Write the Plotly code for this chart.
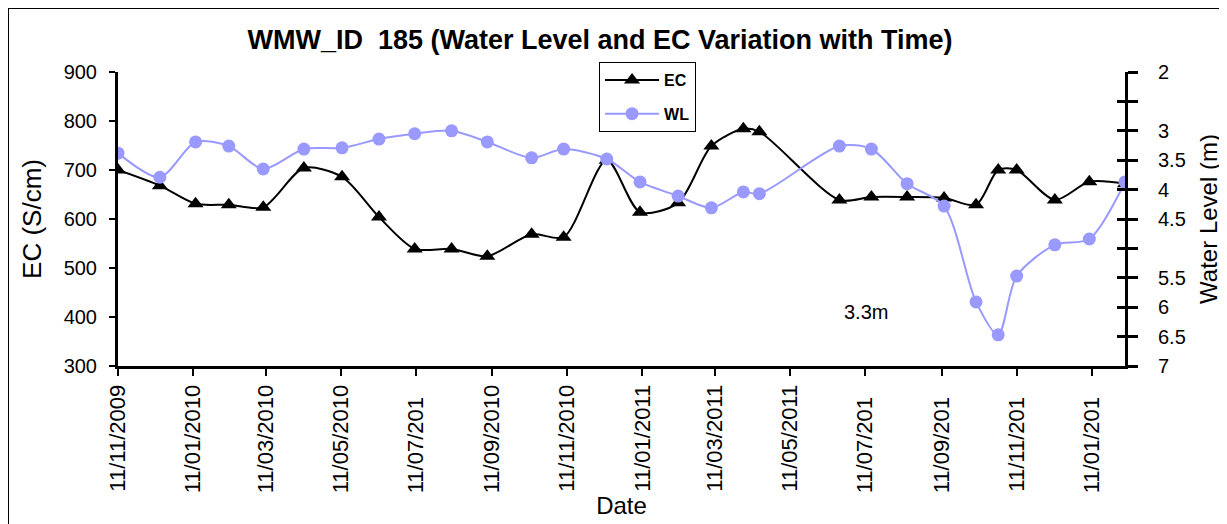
import plotly.graph_objects as go

# ---- data ----
dates = ["2009-11-11", "2009-12-15", "2010-01-13", "2010-02-09", "2010-03-09",
         "2010-04-11", "2010-05-12", "2010-06-11", "2010-07-10", "2010-08-09",
         "2010-09-07", "2010-10-13", "2010-11-08", "2010-12-13", "2011-01-09",
         "2011-02-09", "2011-03-08", "2011-04-03", "2011-04-16", "2011-06-20",
         "2011-07-16", "2011-08-14", "2011-09-13", "2011-10-09", "2011-10-27",
         "2011-11-11", "2011-12-12", "2012-01-09", "2012-02-07"]

ec = [700, 668, 631, 629, 624, 704, 686, 604, 539, 539, 524, 569, 563, 720, 614,
      633, 749, 784, 778, 639, 645, 645, 643, 629, 700, 700, 639, 676, 672]

wl = [3.38, 3.79, 3.19, 3.26, 3.65, 3.31, 3.29, 3.14, 3.05, 3.00, 3.19, 3.46, 3.31,
      3.48, 3.87, 4.11, 4.31, 4.04, 4.07, 3.26, 3.31, 3.90, 4.28, 5.91, 6.47, 5.47,
      4.94, 4.84, 3.87]

x_tick_dates = ["2009-11-11", "2010-01-11", "2010-03-11", "2010-05-11", "2010-07-11",
                "2010-09-11", "2010-11-11", "2011-01-11", "2011-03-11", "2011-05-11",
                "2011-07-11", "2011-09-11", "2011-11-11", "2012-01-11"]
x_tick_text = ["11/11/2009", "11/01/2010", "11/03/2010", "11/05/2010",
               "11/07/201\u00a0\u00a0", "11/09/2010", "11/11/2010", "11/01/2011",
               "11/03/2011", "11/05/2011", "11/07/201\u00a0\u00a0", "11/09/201\u00a0\u00a0",
               "11/11/201\u00a0\u00a0", "11/01/201\u00a0\u00a0"]

ec_ticks = [300, 400, 500, 600, 700, 800, 900]
wl_ticks = [2, 2.5, 3, 3.5, 4, 4.5, 5, 5.5, 6, 6.5, 7]
wl_tick_text = ["2", "", "3", "3.5", "4", "4.5", "", "5.5", "6", "6.5", "7"]

x_range = ["2009-11-11", "2012-02-07"]
ec_range = [300, 900]
wl_range = [7, 2]

FONT = "Liberation Sans, Arial, sans-serif"
WL_COLOR = "#9999FF"

fig = go.Figure()
fig.add_trace(go.Scatter(
    x=dates, y=ec, name="EC", mode="lines+markers", legendgroup="ec",
    line=dict(color="black", width=2, shape="spline", smoothing=0.8),
    marker=dict(symbol="triangle-up", size=14, color="black"),
    yaxis="y"))
fig.add_trace(go.Scatter(
    x=dates, y=wl, name="WL", mode="lines+markers", legendgroup="wl",
    line=dict(color=WL_COLOR, width=2, shape="spline", smoothing=0.8),
    marker=dict(symbol="circle", size=13, color=WL_COLOR),
    yaxis="y2"))
# invisible trace carrying the inner right-hand ticks
fig.add_trace(go.Scatter(x=[dates[0]], y=[wl[0]], yaxis="y3", mode="markers",
                         marker=dict(opacity=0), showlegend=False, hoverinfo="skip"))

fig.update_layout(
    width=1227, height=524,
    margin=dict(l=110, r=110, t=64, b=166, pad=0),
    paper_bgcolor="white", plot_bgcolor="white",
    font=dict(family=FONT, color="black", size=20),
    showlegend=True,
    title=dict(text="<b>WMW_ID\u00a0\u00a0185 (Water Level and EC Variation with Time)</b>",
               font=dict(family=FONT, size=27, color="black"),
               xref="container", x=0.4825, xanchor="center",
               yref="container", y=1 - 32 / 524, yanchor="middle"),
    legend=dict(x=0.4777, y=1.034, xanchor="left", yanchor="top",
                bgcolor="white", bordercolor="black", borderwidth=1,
                font=dict(family=FONT, size=16, color="black", weight="bold"),
                itemwidth=54, tracegroupgap=10),
    xaxis=dict(type="date", range=x_range, tickmode="array",
               tickvals=x_tick_dates, ticktext=x_tick_text, tickangle=-90,
               tickfont=dict(size=22), showgrid=False, zeroline=False,
               showline=True, linecolor="black", linewidth=3,
               ticks="outside", ticklen=7, tickwidth=2, tickcolor="black",
               automargin=False,
               title=dict(text="Date", font=dict(size=24), standoff=2)),
    yaxis=dict(range=ec_range, tickmode="array", tickvals=ec_ticks,
               showgrid=False, zeroline=False, showline=True, linecolor="black",
               linewidth=3, ticks="outside", ticklen=6, tickwidth=2,
               tickcolor="black", ticklabelstandoff=8, automargin=False,
               title=dict(text="EC (S/cm)", font=dict(size=26), standoff=15)),
    yaxis2=dict(range=wl_range, overlaying="y", side="right", tickmode="array",
                tickvals=wl_ticks, ticktext=wl_tick_text, showgrid=False,
                zeroline=False, showline=True, linecolor="black", linewidth=3,
                ticks="outside", ticklen=10, tickwidth=3, tickcolor="black",
                ticklabelstandoff=16, automargin=False,
                title=dict(text="Water Level (m)", font=dict(size=24), standoff=16)),
    yaxis3=dict(range=wl_range, overlaying="y", side="right", tickmode="array",
                tickvals=wl_ticks, showticklabels=False, showgrid=False,
                zeroline=False, showline=False, ticks="inside", ticklen=8,
                tickwidth=3, tickcolor="black", automargin=False),
    annotations=[dict(text="3.3m", xref="paper", yref="paper",
                      x=0.7666, y=0.139, showarrow=False,
                      font=dict(size=20, family=FONT, color="black"))],
    shapes=[
        dict(type="rect", xref="paper", yref="paper",
             x0=-0.10924, x1=1.1142, y0=-0.5918, y1=1.2177,
             line=dict(color="black", width=2), fillcolor="rgba(0,0,0,0)", layer="below"),
        dict(type="rect", xref="paper", yref="paper",
             x0=0.0238, x1=0.0387, y0=1.2347, y1=1.2449,
             line=dict(width=0), fillcolor="#999999", layer="below"),
    ],
)

fig.write_html("out.html")
